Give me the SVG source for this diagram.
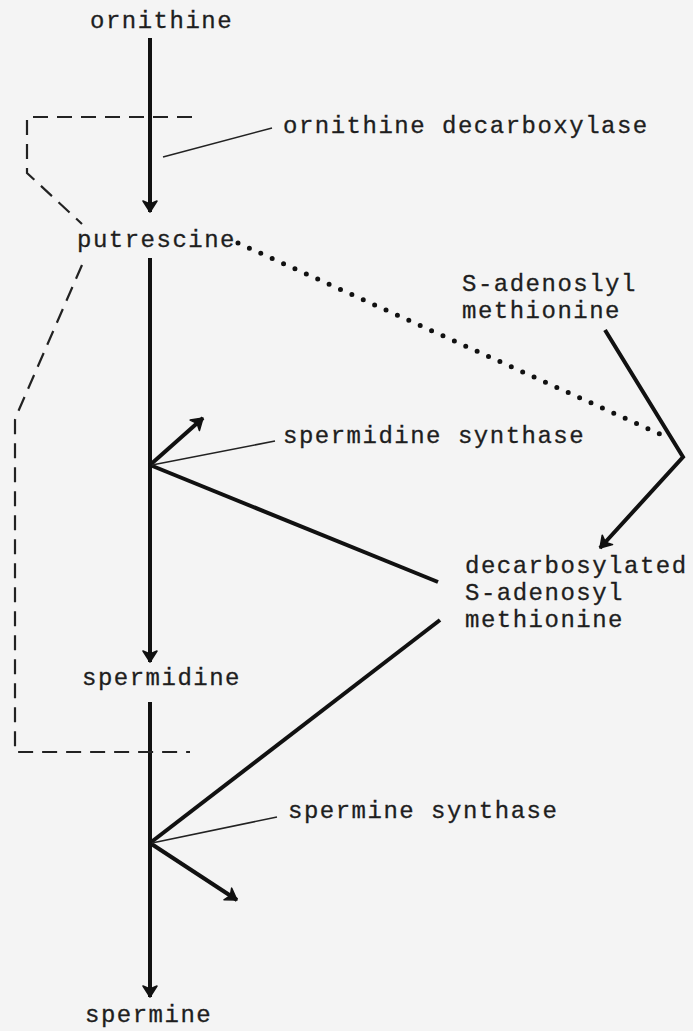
<svg xmlns="http://www.w3.org/2000/svg" width="693" height="1031" viewBox="0 0 693 1031">
<defs>
<style>
.t{font-family:"Liberation Mono","Courier New",monospace;font-size:24px;letter-spacing:1.5px;fill:#1e1e1e;stroke:#1e1e1e;stroke-width:0.3}
.thick{stroke:#111;stroke-width:4;fill:none}
.thin{stroke:#222;stroke-width:1.6;fill:none}
.dash{stroke:#222;stroke-width:2.2;fill:none;stroke-dasharray:15 9}
.dot{stroke:#111;stroke-width:5;fill:none;stroke-linecap:round;stroke-dasharray:0 12.5}
</style>
<marker id="ah" markerUnits="userSpaceOnUse" viewBox="-14 -9 16 18" markerWidth="16" markerHeight="18" refX="0" refY="0" orient="auto">
<path d="M-11,-7 L0,0 L-11,7 L-8,0 Z" fill="#111" stroke="#111" stroke-width="1.5" stroke-linejoin="round"/>
</marker>
</defs>
<rect width="693" height="1031" fill="#f4f4f4"/>
<g id="connectors">
<line class="thick" x1="150" y1="38" x2="150" y2="212" marker-end="url(#ah)"/>
<line class="thick" x1="150" y1="258" x2="150" y2="662" marker-end="url(#ah)"/>
<line class="thick" x1="150" y1="702" x2="150" y2="997" marker-end="url(#ah)"/>
<line class="thick" x1="150" y1="465" x2="438" y2="582"/>
<line class="thick" x1="150" y1="465" x2="203" y2="418" marker-end="url(#ah)"/>
<line class="thick" x1="440" y1="620" x2="150" y2="843"/>
<line class="thick" x1="150" y1="843" x2="237" y2="900" marker-end="url(#ah)"/>
<polyline class="thick" points="605,330 683,457 600,548" marker-end="url(#ah)"/>
<line class="dot" x1="238" y1="243" x2="662" y2="435"/>
<line class="thin" x1="163" y1="157" x2="272" y2="128"/>
<line class="thin" x1="152" y1="465" x2="275" y2="441"/>
<line class="thin" x1="152" y1="843" x2="277" y2="817"/>
<path class="dash" d="M192,117 H27 V173 L82,224"/>
<path class="dash" d="M82,265 L18,412 L15,420 V752 H190"/>
</g>
<g id="ornithine"><text class="t" x="90" y="28">ornithine</text></g>
<g id="odc"><text class="t" x="283" y="133">ornithine decarboxylase</text></g>
<g id="putrescine"><text class="t" x="77" y="247">putrescine</text></g>
<g id="sam"><text class="t" x="462" y="291">S-adenoslyl</text><text class="t" x="462" y="318">methionine</text></g>
<g id="spds"><text class="t" x="283" y="443">spermidine synthase</text></g>
<g id="dcsam"><text class="t" x="465" y="573">decarbosylated</text><text class="t" x="465" y="600">S-adenosyl</text><text class="t" x="465" y="627">methionine</text></g>
<g id="spermidine"><text class="t" x="82" y="685">spermidine</text></g>
<g id="spms"><text class="t" x="288" y="818">spermine synthase</text></g>
<g id="spermine"><text class="t" x="85" y="1022">spermine</text></g>
</svg>
